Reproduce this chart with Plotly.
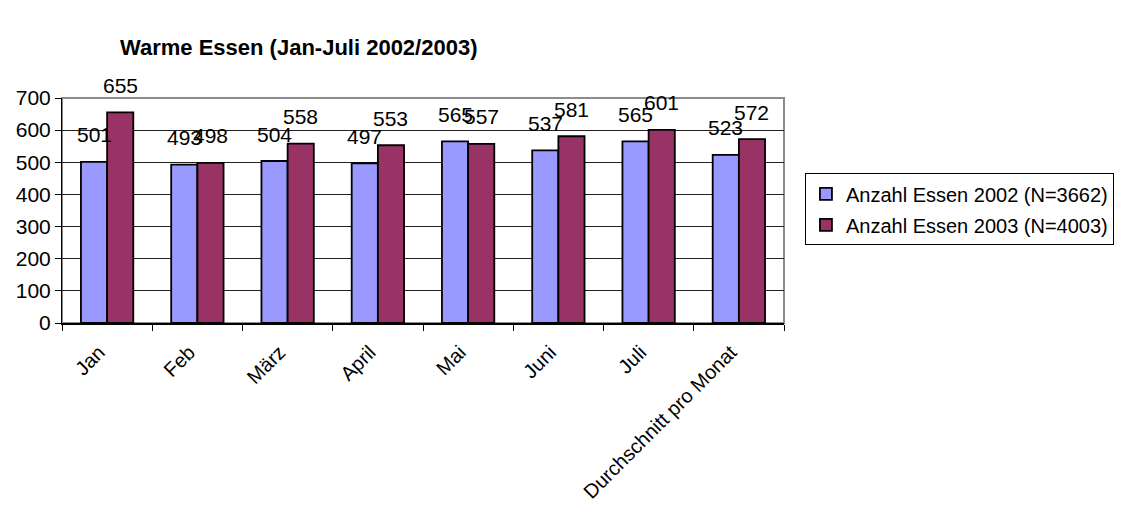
import plotly.graph_objects as go

# Monthly counts of warm meals
categories = ["Jan", "Feb", "März", "April", "Mai", "Juni", "Juli", "Durchschnitt pro Monat"]
essen_2002 = [501, 493, 504, 497, 565, 537, 565, 523]
essen_2003 = [655, 498, 558, 553, 557, 581, 601, 572]
name_2002 = "Anzahl Essen 2002 (N=3662)"
name_2003 = "Anzahl Essen 2003 (N=4003)"

FONT = "Liberation Sans, Arial, sans-serif"
BLUE = "#9999FF"
MAROON = "#993366"

fig = go.Figure()
fig.add_trace(go.Bar(x=categories, y=essen_2002, name=name_2002,
                     marker=dict(color=BLUE, line=dict(color="black", width=1.8)),
                     legendgroup="a"))
fig.add_trace(go.Bar(x=categories, y=essen_2003, name=name_2003,
                     marker=dict(color=MAROON, line=dict(color="black", width=1.8)),
                     legendgroup="b"))

# value labels above each bar
for vals, shift in ((essen_2002, -13), (essen_2003, 13)):
    for cat, v in zip(categories, vals):
        fig.add_annotation(x=cat, y=v, text=str(v), showarrow=False,
                           xshift=shift, yshift=27, yanchor="middle",
                           font=dict(family=FONT, size=21, color="black"))

# plot frame (top and right edges in grey)
fig.add_shape(type="rect", xref="paper", yref="paper", x0=0, y0=0, x1=1, y1=1,
              line=dict(color="#8c8c8c", width=2), layer="below")

fig.update_layout(
    width=1136, height=515,
    margin=dict(l=62, r=352, t=98, b=192),
    paper_bgcolor="white", plot_bgcolor="white",
    font=dict(family=FONT, size=20, color="black"),
    barmode="group", bargap=0.42, bargroupgap=0,
    title=dict(text="<b>Warme Essen (Jan-Juli 2002/2003)</b>",
               x=120 / 1136, xanchor="left", xref="container",
               y=1 - 47 / 515, yanchor="middle", yref="container",
               font=dict(family=FONT, size=22, color="black")),
    legend=dict(x=1.029, y=0.665, xanchor="left", yanchor="top",
                bordercolor="black", borderwidth=1, bgcolor="white",
                font=dict(family=FONT, size=20, color="black"),
                traceorder="grouped", tracegroupgap=2,
                itemwidth=30),
    showlegend=True,
)

fig.update_yaxes(range=[0, 700], dtick=100, showgrid=True, gridcolor="#222222",
                 gridwidth=1, showline=True, linecolor="black", linewidth=1,
                 ticks="outside", ticklen=6, tickcolor="black",
                 tickfont=dict(family=FONT, size=21), zeroline=False)
fig.update_xaxes(showline=True, linecolor="black", linewidth=1.5,
                 ticks="outside", ticklen=6, tickcolor="black", tickson="boundaries",
                 tickangle=-45, tickfont=dict(family=FONT, size=20), showgrid=False,
                 ticklabelstandoff=8, ticklabelshift=-8)

fig.write_html("out.html")
